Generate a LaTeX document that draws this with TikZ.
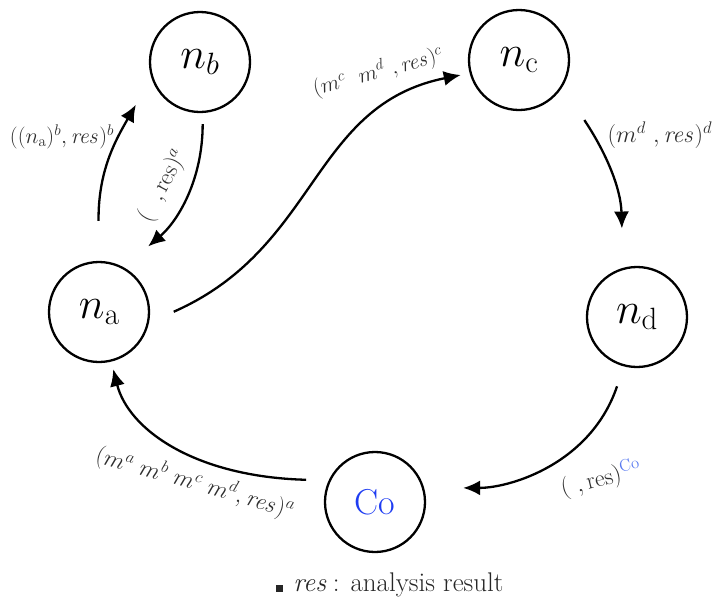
\RequirePackage{fix-cm}
\documentclass[tikz,border=0pt]{standalone}
\usetikzlibrary{arrows.meta}
\definecolor{lbl}{HTML}{2E2E2E}
\definecolor{coblue}{HTML}{1F3DF2}
\definecolor{colight}{HTML}{5A7BF0}
\tikzset{
  stnode/.style={circle, draw, line width=2.3pt, minimum size=100pt, inner sep=0pt,
    font=\fontsize{44}{48}\selectfont},
  flow/.style={line width=2.3pt, -{Latex[length=17pt,width=15pt]}},
  lab/.style={text=lbl, font=\fontsize{22}{24}\selectfont, inner sep=0pt},
  bigl/.style={lab, font=\fontsize{24}{26}\selectfont},
}
\begin{document}
\begin{tikzpicture}[x=1pt,y=-1pt]
\useasboundingbox (0,0) rectangle (716,606);
% states
\node[stnode] (na) at (99,312) {$n_{\mathrm{a}}$};
\node[stnode] (nb) at (200,62) {$n_{b}$};
\node[stnode] (nc) at (519,60) {$n_{\mathrm{c}}$};
\node[stnode] (nd) at (637,317) {$n_{\mathrm{d}}$};
\node[stnode, font=\fontsize{36}{40}\selectfont, text=coblue] (co) at (375,502) {Co};
% connectors
\draw[flow, shorten <=40pt, shorten >=31pt] (na.north) .. controls +(-1,-90) and +(-35.6,62) .. (nb.198.6);
\draw[flow, shorten <=11pt, shorten >=32pt] (nb.-87) .. controls +(0,66) and +(54.7,-46.8) .. (na.61.8);
\draw[flow, shorten <=27pt, shorten >=9pt] (na.-12.8) .. controls +(170,-75) and +(-158.8,31.8) .. (nc.195.3);
\draw[flow, shorten <=39.6pt, shorten >=39.3pt] (nc.-32.7) .. controls +(44,66) and +(-2,-79.3) .. (nd.106.4);
\draw[flow, shorten <=21pt, shorten >=39pt] (nd.-105.4) .. controls +(-32.7,96.8) and +(87,0) .. (co.16.3);
\draw[flow, shorten <=22.6pt, shorten >=7.7pt] (co.155.8) .. controls +(-134.6,-3.6) and +(16.9,67.5) .. (na.-76);
% labels
\node[lab] (l1) at (62,137) {$((n_{\mathrm{a}})^b, \mathit{res})^b$};
\node[bigl, rotate=62] (l2) at (163,186) {$(\ \ ,\mathrm{res})^a$};
\node[lab, rotate=15] (l3) at (378,72) {$(m^c\ \ m^d\ ,\mathit{res})^c$};
\node[bigl] (l4) at (660,135) {$(m^d\ ,\mathit{res})^d$};
\node[bigl, rotate=14] (l5) at (601,479) {$(\ ,\mathrm{res})^{\textcolor{colight}{\mathrm{Co}}}$};
\node[bigl, rotate=-16] (l6) at (195,483) {$(m^a\ m^b\ m^c\ m^d, \mathit{res})^a$};
% legend
\node[font=\fontsize{27}{30}\selectfont, text=black!85] (leg) at (390,585)
  {\rule{7pt}{7pt}\hspace{10pt}$\mathit{res}$\,: analysis result};
\end{tikzpicture}
\end{document}
